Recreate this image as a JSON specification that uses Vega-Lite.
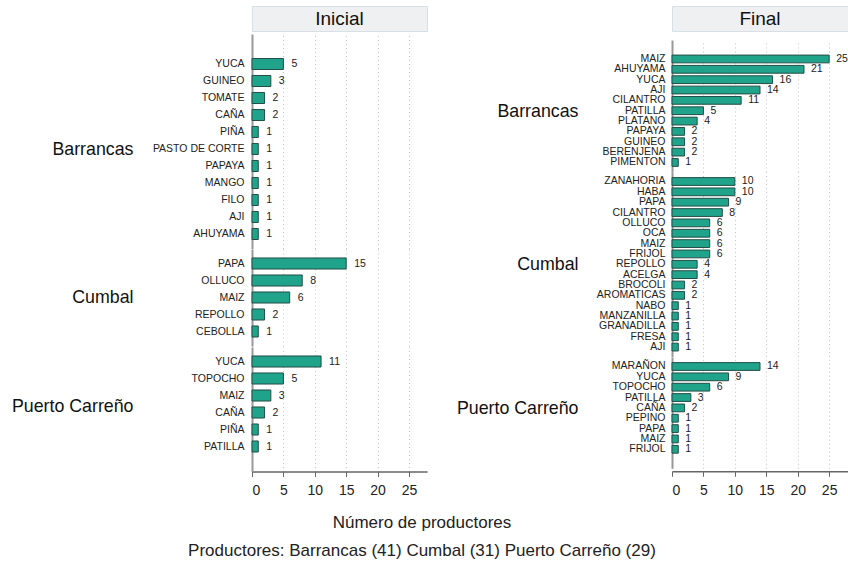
{
  "$schema": "https://vega.github.io/schema/vega-lite/v6.json",
  "background": "white",
  "padding": {"left": 11, "top": 5, "right": 0, "bottom": 0},
  "config": {"font": "Liberation Sans", "view": {"stroke": null}},
  "datasets": {
    "d": [
      {"periodo": "Inicial", "grupo": "Barrancas", "cultivo": "YUCA", "n": 5},
      {"periodo": "Inicial", "grupo": "Barrancas", "cultivo": "GUINEO", "n": 3},
      {"periodo": "Inicial", "grupo": "Barrancas", "cultivo": "TOMATE", "n": 2},
      {"periodo": "Inicial", "grupo": "Barrancas", "cultivo": "CAÑA", "n": 2},
      {"periodo": "Inicial", "grupo": "Barrancas", "cultivo": "PIÑA", "n": 1},
      {"periodo": "Inicial", "grupo": "Barrancas", "cultivo": "PASTO DE CORTE", "n": 1},
      {"periodo": "Inicial", "grupo": "Barrancas", "cultivo": "PAPAYA", "n": 1},
      {"periodo": "Inicial", "grupo": "Barrancas", "cultivo": "MANGO", "n": 1},
      {"periodo": "Inicial", "grupo": "Barrancas", "cultivo": "FILO", "n": 1},
      {"periodo": "Inicial", "grupo": "Barrancas", "cultivo": "AJI", "n": 1},
      {"periodo": "Inicial", "grupo": "Barrancas", "cultivo": "AHUYAMA", "n": 1},
      {"periodo": "Inicial", "grupo": "Cumbal", "cultivo": "PAPA", "n": 15},
      {"periodo": "Inicial", "grupo": "Cumbal", "cultivo": "OLLUCO", "n": 8},
      {"periodo": "Inicial", "grupo": "Cumbal", "cultivo": "MAIZ", "n": 6},
      {"periodo": "Inicial", "grupo": "Cumbal", "cultivo": "REPOLLO", "n": 2},
      {"periodo": "Inicial", "grupo": "Cumbal", "cultivo": "CEBOLLA", "n": 1},
      {"periodo": "Inicial", "grupo": "Puerto Carreño", "cultivo": "YUCA", "n": 11},
      {"periodo": "Inicial", "grupo": "Puerto Carreño", "cultivo": "TOPOCHO", "n": 5},
      {"periodo": "Inicial", "grupo": "Puerto Carreño", "cultivo": "MAIZ", "n": 3},
      {"periodo": "Inicial", "grupo": "Puerto Carreño", "cultivo": "CAÑA", "n": 2},
      {"periodo": "Inicial", "grupo": "Puerto Carreño", "cultivo": "PIÑA", "n": 1},
      {"periodo": "Inicial", "grupo": "Puerto Carreño", "cultivo": "PATILLA", "n": 1},
      {"periodo": "Final", "grupo": "Barrancas", "cultivo": "MAIZ", "n": 25},
      {"periodo": "Final", "grupo": "Barrancas", "cultivo": "AHUYAMA", "n": 21},
      {"periodo": "Final", "grupo": "Barrancas", "cultivo": "YUCA", "n": 16},
      {"periodo": "Final", "grupo": "Barrancas", "cultivo": "AJI", "n": 14},
      {"periodo": "Final", "grupo": "Barrancas", "cultivo": "CILANTRO", "n": 11},
      {"periodo": "Final", "grupo": "Barrancas", "cultivo": "PATILLA", "n": 5},
      {"periodo": "Final", "grupo": "Barrancas", "cultivo": "PLATANO", "n": 4},
      {"periodo": "Final", "grupo": "Barrancas", "cultivo": "PAPAYA", "n": 2},
      {"periodo": "Final", "grupo": "Barrancas", "cultivo": "GUINEO", "n": 2},
      {"periodo": "Final", "grupo": "Barrancas", "cultivo": "BERENJENA", "n": 2},
      {"periodo": "Final", "grupo": "Barrancas", "cultivo": "PIMENTON", "n": 1},
      {"periodo": "Final", "grupo": "Cumbal", "cultivo": "ZANAHORIA", "n": 10},
      {"periodo": "Final", "grupo": "Cumbal", "cultivo": "HABA", "n": 10},
      {"periodo": "Final", "grupo": "Cumbal", "cultivo": "PAPA", "n": 9},
      {"periodo": "Final", "grupo": "Cumbal", "cultivo": "CILANTRO", "n": 8},
      {"periodo": "Final", "grupo": "Cumbal", "cultivo": "OLLUCO", "n": 6},
      {"periodo": "Final", "grupo": "Cumbal", "cultivo": "OCA", "n": 6},
      {"periodo": "Final", "grupo": "Cumbal", "cultivo": "MAIZ", "n": 6},
      {"periodo": "Final", "grupo": "Cumbal", "cultivo": "FRIJOL", "n": 6},
      {"periodo": "Final", "grupo": "Cumbal", "cultivo": "REPOLLO", "n": 4},
      {"periodo": "Final", "grupo": "Cumbal", "cultivo": "ACELGA", "n": 4},
      {"periodo": "Final", "grupo": "Cumbal", "cultivo": "BROCOLI", "n": 2},
      {"periodo": "Final", "grupo": "Cumbal", "cultivo": "AROMATICAS", "n": 2},
      {"periodo": "Final", "grupo": "Cumbal", "cultivo": "NABO", "n": 1},
      {"periodo": "Final", "grupo": "Cumbal", "cultivo": "MANZANILLA", "n": 1},
      {"periodo": "Final", "grupo": "Cumbal", "cultivo": "GRANADILLA", "n": 1},
      {"periodo": "Final", "grupo": "Cumbal", "cultivo": "FRESA", "n": 1},
      {"periodo": "Final", "grupo": "Cumbal", "cultivo": "AJI", "n": 1},
      {"periodo": "Final", "grupo": "Puerto Carreño", "cultivo": "MARAÑON", "n": 14},
      {"periodo": "Final", "grupo": "Puerto Carreño", "cultivo": "YUCA", "n": 9},
      {"periodo": "Final", "grupo": "Puerto Carreño", "cultivo": "TOPOCHO", "n": 6},
      {"periodo": "Final", "grupo": "Puerto Carreño", "cultivo": "PATILLA", "n": 3},
      {"periodo": "Final", "grupo": "Puerto Carreño", "cultivo": "CAÑA", "n": 2},
      {"periodo": "Final", "grupo": "Puerto Carreño", "cultivo": "PEPINO", "n": 1},
      {"periodo": "Final", "grupo": "Puerto Carreño", "cultivo": "PAPA", "n": 1},
      {"periodo": "Final", "grupo": "Puerto Carreño", "cultivo": "MAIZ", "n": 1},
      {"periodo": "Final", "grupo": "Puerto Carreño", "cultivo": "FRIJOL", "n": 1}
    ]
  },
  "data": {"name": "d"},
  "title": {
    "text": ["Número de productores", "Productores: Barrancas (41) Cumbal (31) Puerto Carreño (29)"],
    "orient": "bottom",
    "anchor": "middle",
    "fontSize": 17,
    "fontWeight": "normal",
    "color": "#222",
    "lineHeight": 28,
    "offset": 17,
    "dx": -8,
    "font": "Liberation Sans"
  },
  "spacing": 28,
  "hconcat": [
    {
      "spacing": 2,
      "vconcat": [
        {
          "width": 175,
          "height": 25,
          "view": {"fill": "#eef0f2", "stroke": "#d8e0e6"},
          "data": {"values": [{"t": "Inicial"}]},
          "mark": {"type": "text", "fontSize": 19, "color": "#111", "font": "Liberation Sans"},
          "encoding": {"text": {"field": "t"}}
        },
        {
          "spacing": 0,
          "vconcat": [
            {
              "width": 175, "height": {"step": 17},
              "transform": [{"filter": "datum.periodo == 'Inicial' && datum.grupo == 'Barrancas'"}],
              "encoding": {
                "y": {"field": "cultivo", "type": "nominal", "sort": null,
                      "scale": {"paddingInner": 0.35, "paddingOuter": 0.9838, "align": 0.7317},
                      "axis": {"title": "Barrancas", "titleAngle": 0, "titleAlign": "right", "titleBaseline": "middle", "titleX": -119, "titleY": 115, "titleFontSize": 17.8, "titleFontWeight": "normal", "titleColor": "#111", "ticks": false, "domainColor": "#999", "domainWidth": 2, "labelFontSize": 10.5, "labelColor": "#222", "labelPadding": 8}},
                "x": {"field": "n", "type": "quantitative",
                      "scale": {"domain": [0, 27.87], "nice": false},
                      "axis": {"title": null, "values": [0, 5, 10, 15, 20, 25], "grid": true, "gridDash": [1, 3], "gridColor": "#c4c4c4", "labels": false, "ticks": false, "domain": false, "minExtent": 0, "maxExtent": 0}}
              },
              "layer": [
                {"mark": {"type": "bar", "fill": "#1fa38b", "stroke": "#234e46", "strokeWidth": 1}},
                {"mark": {"type": "text", "align": "left", "dx": 8, "fontSize": 10.5, "color": "#222"}, "encoding": {"text": {"field": "n"}}}
              ]
            },
            {
              "width": 175, "height": {"step": 17},
              "transform": [{"filter": "datum.periodo == 'Inicial' && datum.grupo == 'Cumbal'"}],
              "encoding": {
                "y": {"field": "cultivo", "type": "nominal", "sort": null,
                      "scale": {"paddingInner": 0.35, "paddingOuter": 0.528},
                      "axis": {"title": "Cumbal", "titleAngle": 0, "titleAlign": "right", "titleBaseline": "middle", "titleAnchor": "middle", "titleX": -119, "titleFontSize": 17.8, "titleFontWeight": "normal", "titleColor": "#111", "ticks": false, "domainColor": "#999", "domainWidth": 2, "labelFontSize": 10.5, "labelColor": "#222", "labelPadding": 8}},
                "x": {"field": "n", "type": "quantitative",
                      "scale": {"domain": [0, 27.87], "nice": false},
                      "axis": {"title": null, "values": [0, 5, 10, 15, 20, 25], "grid": true, "gridDash": [1, 3], "gridColor": "#c4c4c4", "labels": false, "ticks": false, "domain": false, "minExtent": 0, "maxExtent": 0}}
              },
              "layer": [
                {"mark": {"type": "bar", "fill": "#1fa38b", "stroke": "#234e46", "strokeWidth": 1}},
                {"mark": {"type": "text", "align": "left", "dx": 8, "fontSize": 10.5, "color": "#222"}, "encoding": {"text": {"field": "n"}}}
              ]
            },
            {
              "width": 175, "height": {"step": 17},
              "transform": [{"filter": "datum.periodo == 'Inicial' && datum.grupo == 'Puerto Carreño'"}],
              "encoding": {
                "y": {"field": "cultivo", "type": "nominal", "sort": null,
                      "scale": {"paddingInner": 0.35, "paddingOuter": 0.8368, "align": 0.3155},
                      "axis": {"title": "Puerto Carreño", "titleAngle": 0, "titleAlign": "right", "titleBaseline": "middle", "titleX": -119, "titleY": 59, "titleFontSize": 17.8, "titleFontWeight": "normal", "titleColor": "#111", "ticks": false, "domainColor": "#999", "domainWidth": 2, "labelFontSize": 10.5, "labelColor": "#222", "labelPadding": 8}},
                "x": {"field": "n", "type": "quantitative",
                      "scale": {"domain": [0, 27.87], "nice": false},
                      "axis": {"title": null, "values": [0, 5, 10, 15, 20, 25], "grid": true, "gridDash": [1, 3], "gridColor": "#c4c4c4", "domainColor": "#666", "domainWidth": 1.5, "tickColor": "#666", "tickSize": 5, "labelFontSize": 14, "labelColor": "#222", "labelPadding": 7}}
              },
              "layer": [
                {"mark": {"type": "bar", "fill": "#1fa38b", "stroke": "#234e46", "strokeWidth": 1}},
                {"mark": {"type": "text", "align": "left", "dx": 8, "fontSize": 10.5, "color": "#222"}, "encoding": {"text": {"field": "n"}}}
              ]
            }
          ]
        }
      ]
    },
    {
      "spacing": 8,
      "vconcat": [
        {
          "width": 176,
          "height": 25,
          "view": {"fill": "#eef0f2", "stroke": "#d8e0e6"},
          "data": {"values": [{"t": "Final"}]},
          "mark": {"type": "text", "fontSize": 19, "color": "#111", "font": "Liberation Sans"},
          "encoding": {"text": {"field": "t"}}
        },
        {
          "spacing": 0,
          "vconcat": [
            {
              "width": 176, "height": {"step": 10.35},
              "transform": [{"filter": "datum.periodo == 'Final' && datum.grupo == 'Barrancas'"}],
              "encoding": {
                "y": {"field": "cultivo", "type": "nominal", "sort": null,
                      "scale": {"paddingInner": 0.25, "paddingOuter": 1, "align": 0.7288},
                      "axis": {"title": "Barrancas", "titleAngle": 0, "titleAlign": "right", "titleBaseline": "middle", "titleX": -94, "titleY": 71, "titleFontSize": 17.8, "titleFontWeight": "normal", "titleColor": "#111", "ticks": false, "domainColor": "#999", "domainWidth": 2, "labelFontSize": 10.5, "labelColor": "#222", "labelPadding": 7}},
                "x": {"field": "n", "type": "quantitative",
                      "scale": {"domain": [0, 28], "nice": false},
                      "axis": {"title": null, "values": [0, 5, 10, 15, 20, 25], "grid": true, "gridDash": [1, 3], "gridColor": "#c4c4c4", "labels": false, "ticks": false, "domain": false, "minExtent": 0, "maxExtent": 0}}
              },
              "layer": [
                {"mark": {"type": "bar", "fill": "#1fa38b", "stroke": "#234e46", "strokeWidth": 1}},
                {"mark": {"type": "text", "align": "left", "dx": 7, "fontSize": 10.5, "color": "#222"}, "encoding": {"text": {"field": "n"}}}
              ]
            },
            {
              "width": 176, "height": {"step": 10.35},
              "transform": [{"filter": "datum.periodo == 'Final' && datum.grupo == 'Cumbal'"}],
              "encoding": {
                "y": {"field": "cultivo", "type": "nominal", "sort": null,
                      "scale": {"paddingInner": 0.25, "paddingOuter": 0.5425},
                      "axis": {"title": "Cumbal", "titleAngle": 0, "titleAlign": "right", "titleBaseline": "middle", "titleAnchor": "middle", "titleX": -94, "titleFontSize": 17.8, "titleFontWeight": "normal", "titleColor": "#111", "ticks": false, "domainColor": "#999", "domainWidth": 2, "labelFontSize": 10.5, "labelColor": "#222", "labelPadding": 7}},
                "x": {"field": "n", "type": "quantitative",
                      "scale": {"domain": [0, 28], "nice": false},
                      "axis": {"title": null, "values": [0, 5, 10, 15, 20, 25], "grid": true, "gridDash": [1, 3], "gridColor": "#c4c4c4", "labels": false, "ticks": false, "domain": false, "minExtent": 0, "maxExtent": 0}}
              },
              "layer": [
                {"mark": {"type": "bar", "fill": "#1fa38b", "stroke": "#234e46", "strokeWidth": 1}},
                {"mark": {"type": "text", "align": "left", "dx": 7, "fontSize": 10.5, "color": "#222"}, "encoding": {"text": {"field": "n"}}}
              ]
            },
            {
              "width": 176, "height": {"step": 10.35},
              "transform": [{"filter": "datum.periodo == 'Final' && datum.grupo == 'Puerto Carreño'"}],
              "encoding": {
                "y": {"field": "cultivo", "type": "nominal", "sort": null,
                      "scale": {"paddingInner": 0.25, "paddingOuter": 1, "align": 0.2713},
                      "axis": {"title": "Puerto Carreño", "titleAngle": 0, "titleAlign": "right", "titleBaseline": "middle", "titleX": -94, "titleY": 51.5, "titleFontSize": 17.8, "titleFontWeight": "normal", "titleColor": "#111", "ticks": false, "domainColor": "#999", "domainWidth": 2, "labelFontSize": 10.5, "labelColor": "#222", "labelPadding": 7}},
                "x": {"field": "n", "type": "quantitative",
                      "scale": {"domain": [0, 28], "nice": false},
                      "axis": {"title": null, "values": [0, 5, 10, 15, 20, 25], "grid": true, "gridDash": [1, 3], "gridColor": "#c4c4c4", "domainColor": "#666", "domainWidth": 1.5, "tickColor": "#666", "tickSize": 5, "labelFontSize": 14, "labelColor": "#222", "labelPadding": 7, "offset": 3}}
              },
              "layer": [
                {"mark": {"type": "bar", "fill": "#1fa38b", "stroke": "#234e46", "strokeWidth": 1}},
                {"mark": {"type": "text", "align": "left", "dx": 7, "fontSize": 10.5, "color": "#222"}, "encoding": {"text": {"field": "n"}}}
              ]
            }
          ]
        }
      ]
    }
  ]
}
